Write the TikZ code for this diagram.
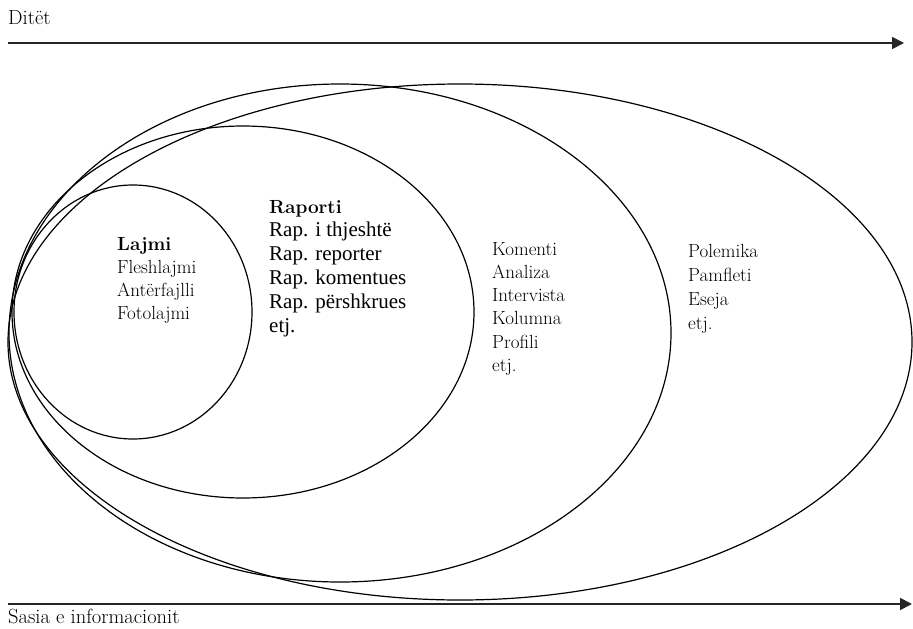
\documentclass[tikz,border=0pt]{standalone}
\usepackage{fontspec}
\newfontfamily\timesfont{Liberation Serif}
\usetikzlibrary{arrows.meta}
\begin{document}
\begin{tikzpicture}[x=1pt,y=-1pt,
  ring/.style={line width=1.2pt, draw=black},
  axis/.style={line width=1.8pt, draw=black!85, -{Triangle[length=12pt,width=12pt]}},
  label/.style={anchor=base west, inner sep=0pt, font=\fontsize{20.5}{24}\selectfont},
  block/.style={anchor=base west, inner sep=0pt}]
\useasboundingbox (0,0) rectangle (913,629);

% axes
\coordinate (topL) at (8,43);
\coordinate (topR) at (904,43);
\coordinate (botL) at (8,604);
\coordinate (botR) at (912,604);
\draw[axis] (topL) -- (topR);
\draw[axis] (botL) -- (botR);
\node[label] (ditet) at (8,24) {Ditët};
\node[label] (sasia) at (8,623) {Sasia e informacionit};

% nested ellipses, all sharing the left side
\draw[ring] (133,312) ellipse [x radius=119pt, y radius=127pt];
\draw[ring] (243,312) ellipse [x radius=231pt, y radius=186pt];
\draw[ring] (340,333) ellipse [x radius=331pt, y radius=249pt];
\draw[ring] (460,342) ellipse [x radius=452pt, y radius=258pt];

% contents
\node[block] (lajmi) at (117,250) {\fontsize{19}{23}\selectfont
  \begin{tabular}[t]{@{}l@{}}\textbf{Lajmi}\\ Fleshlajmi\\ Antërfajlli\\ Fotolajmi\end{tabular}};

\node[block] (raporti) at (269,213) {\fontsize{21}{23.8}\selectfont
  \begin{tabular}[t]{@{}l@{}}{\fontsize{19}{23}\selectfont\textbf{Raporti}}\\
  \timesfont Rap. i thjeshtë\\ \timesfont Rap. reporter\\ \timesfont Rap. komentues\\
  \timesfont Rap. përshkrues\\ \timesfont etj.\end{tabular}};

\node[block] (komenti) at (492,255) {\fontsize{19}{23.3}\selectfont
  \begin{tabular}[t]{@{}l@{}}Komenti\\ Analiza\\ Intervista\\ Kolumna\\ Profili\\ etj.\end{tabular}};

\node[block] (polemika) at (688,257) {\fontsize{19}{24}\selectfont
  \begin{tabular}[t]{@{}l@{}}Polemika\\ Pamfleti\\ Eseja\\ etj.\end{tabular}};
\end{tikzpicture}
\end{document}
